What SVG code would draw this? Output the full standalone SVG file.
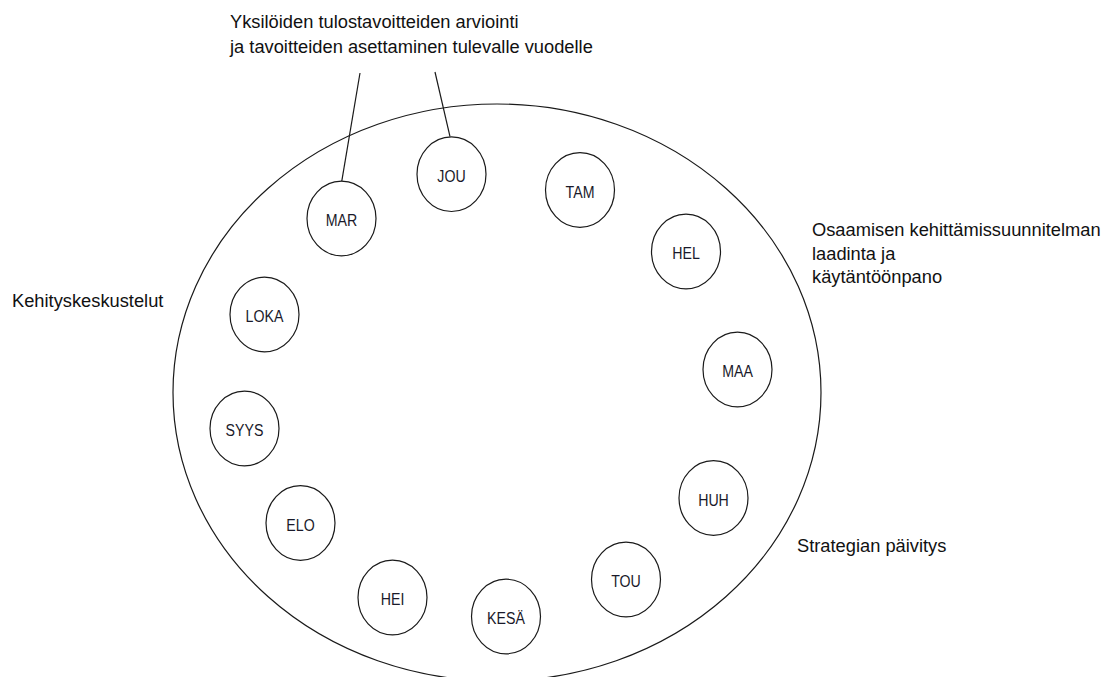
<svg xmlns="http://www.w3.org/2000/svg" width="1111" height="677" viewBox="0 0 1111 677">
<style>
  .bg { fill: #ffffff; }
  .ring { fill: none; stroke: #1a1a1a; stroke-width: 1.2; }
  .month { fill: #ffffff; stroke: #1a1a1a; stroke-width: 1.2; }
  .conn { fill: none; stroke: #1a1a1a; stroke-width: 1.2; }
  .lbl { font-family: "Liberation Sans", Arial, sans-serif; font-size: 16.5px; fill: #1a1a2a; text-anchor: middle; }
  .note { font-family: "Liberation Sans", Arial, sans-serif; font-size: 18.3px; fill: #111111; }
</style>
<rect class="bg" x="0" y="0" width="1111" height="677"/>
<g id="cycle">
  <ellipse class="ring" cx="497" cy="392.5" rx="324" ry="288.5"/>
</g>
<g id="connectors">
  <line class="conn" x1="360" y1="73" x2="341.7" y2="181.7"/>
  <line class="conn" x1="435" y1="72" x2="450" y2="136.7"/>
</g>
<g id="note-top">
  <text class="note" x="230" y="27.5">Yksilöiden tulostavoitteiden arviointi</text>
  <text class="note" x="230" y="53">ja tavoitteiden asettaminen tulevalle vuodelle</text>
</g>
<g id="note-right">
  <text class="note" x="812" y="236">Osaamisen kehittämissuunnitelman</text>
  <text class="note" x="812" y="259.5">laadinta ja</text>
  <text class="note" x="812" y="283">käytäntöönpano</text>
</g>
<g id="note-left">
  <text class="note" x="12" y="307">Kehityskeskustelut</text>
</g>
<g id="note-bottom">
  <text class="note" x="797" y="552">Strategian päivitys</text>
</g>
<g id="m-jou"><ellipse class="month" cx="451.5" cy="174.2" rx="34.5" ry="37.3"/><text class="lbl" transform="translate(451.5,181.7) scale(0.86,1)">JOU</text></g>
<g id="m-tam"><ellipse class="month" cx="580" cy="190" rx="34.5" ry="37.3"/><text class="lbl" transform="translate(580,197.5) scale(0.86,1)">TAM</text></g>
<g id="m-hel"><ellipse class="month" cx="686" cy="251.5" rx="34.5" ry="37.3"/><text class="lbl" transform="translate(686,259) scale(0.86,1)">HEL</text></g>
<g id="m-maa"><ellipse class="month" cx="737.5" cy="369.5" rx="34.5" ry="37.3"/><text class="lbl" transform="translate(737.5,377) scale(0.86,1)">MAA</text></g>
<g id="m-huh"><ellipse class="month" cx="713.5" cy="498" rx="34.5" ry="37.3"/><text class="lbl" transform="translate(713.5,505.5) scale(0.86,1)">HUH</text></g>
<g id="m-tou"><ellipse class="month" cx="626" cy="579.5" rx="34.5" ry="37.3"/><text class="lbl" transform="translate(626,587) scale(0.86,1)">TOU</text></g>
<g id="m-kesa"><ellipse class="month" cx="506" cy="616.5" rx="34.5" ry="37.3"/><text class="lbl" transform="translate(506,624) scale(0.86,1)">KESÄ</text></g>
<g id="m-hei"><ellipse class="month" cx="392.5" cy="597.5" rx="34.5" ry="37.3"/><text class="lbl" transform="translate(392.5,605) scale(0.86,1)">HEI</text></g>
<g id="m-elo"><ellipse class="month" cx="300.5" cy="523" rx="34.5" ry="37.3"/><text class="lbl" transform="translate(300.5,530.5) scale(0.86,1)">ELO</text></g>
<g id="m-syys"><ellipse class="month" cx="244.5" cy="428.5" rx="34.5" ry="37.3"/><text class="lbl" transform="translate(244.5,436) scale(0.86,1)">SYYS</text></g>
<g id="m-loka"><ellipse class="month" cx="264.5" cy="314.5" rx="34.5" ry="37.3"/><text class="lbl" transform="translate(264.5,322) scale(0.86,1)">LOKA</text></g>
<g id="m-mar"><ellipse class="month" cx="341.5" cy="218.5" rx="34.5" ry="37.3"/><text class="lbl" transform="translate(341.5,226) scale(0.86,1)">MAR</text></g>
</svg>
